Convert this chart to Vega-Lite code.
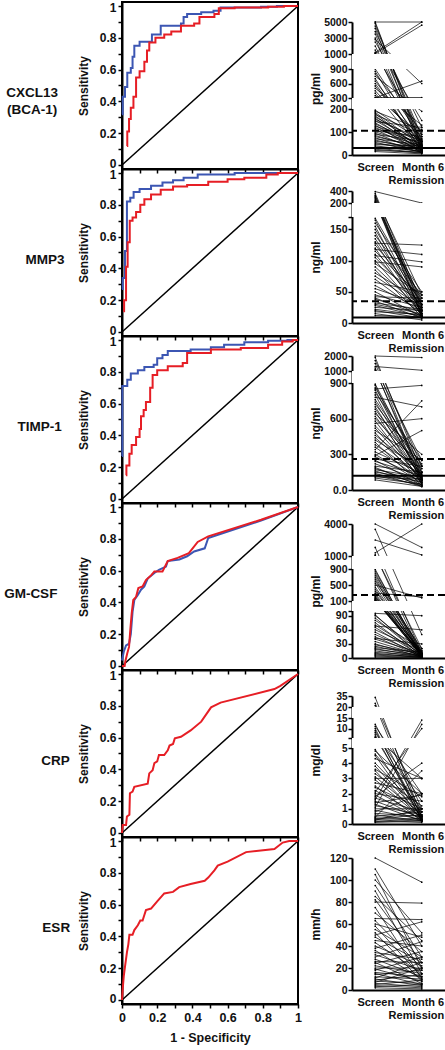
{
"$schema": "https://vega.github.io/schema/vega-lite/v6.json",
"padding": {"left": 3, "top": 0, "right": 0, "bottom": 0},
"spacing": 6,
"config": {
  "font": "Liberation Sans",
  "view": {"stroke": null},
  "axis": {"labelFont": "Liberation Sans", "labelFontWeight": "bold", "labelColor": "#111", "titleFont": "Liberation Sans", "titleFontWeight": "bold", "titleColor": "#111", "domainColor": "black", "domainWidth": 2, "tickColor": "black", "tickWidth": 1.5, "grid": false, "labelOverlap": false, "labelFlush": false, "labelBound": false},
  "title": {"orient": "left", "angle": 0, "anchor": "middle", "align": "center", "baseline": "middle", "offset": -7, "font": "Liberation Sans", "fontSize": 13.5, "fontWeight": "bold", "color": "#111", "lineHeight": 17}
},
"datasets": {
  "roc1": [{"x":0,"y":0.32,"c":"b"},{"x":0.004,"y":0.43,"c":"b"},{"x":0.017,"y":0.49,"c":"b"},{"x":0.03,"y":0.58,"c":"b"},{"x":0.05,"y":0.61,"c":"b"},{"x":0.06,"y":0.68,"c":"b"},{"x":0.07,"y":0.75,"c":"b"},{"x":0.1,"y":0.775,"c":"b"},{"x":0.17,"y":0.82,"c":"b"},{"x":0.22,"y":0.875,"c":"b"},{"x":0.335,"y":0.89,"c":"b"},{"x":0.35,"y":0.93,"c":"b"},{"x":0.37,"y":0.95,"c":"b"},{"x":0.45,"y":0.96,"c":"b"},{"x":0.52,"y":0.97,"c":"b"},{"x":0.56,"y":0.99,"c":"b"},{"x":0.79,"y":0.995,"c":"b"},{"x":0.88,"y":1,"c":"b"},{"x":1,"y":1,"c":"b"},
    {"x":0.028,"y":0.12,"c":"r"},{"x":0.03,"y":0.21,"c":"r"},{"x":0.04,"y":0.29,"c":"r"},{"x":0.05,"y":0.36,"c":"r"},{"x":0.065,"y":0.43,"c":"r"},{"x":0.08,"y":0.55,"c":"r"},{"x":0.1,"y":0.59,"c":"r"},{"x":0.127,"y":0.65,"c":"r"},{"x":0.142,"y":0.72,"c":"r"},{"x":0.155,"y":0.77,"c":"r"},{"x":0.19,"y":0.8,"c":"r"},{"x":0.24,"y":0.82,"c":"r"},{"x":0.28,"y":0.84,"c":"r"},{"x":0.335,"y":0.875,"c":"r"},{"x":0.41,"y":0.89,"c":"r"},{"x":0.44,"y":0.93,"c":"r"},{"x":0.525,"y":0.95,"c":"r"},{"x":0.55,"y":0.985,"c":"r"},{"x":0.64,"y":0.99,"c":"r"},{"x":0.83,"y":0.995,"c":"r"},{"x":0.92,"y":1,"c":"r"},{"x":1,"y":1,"c":"r"}],
  "roc2": [{"x":0,"y":0.27,"c":"b"},{"x":0.004,"y":0.34,"c":"b"},{"x":0.017,"y":0.51,"c":"b"},{"x":0.028,"y":0.82,"c":"b"},{"x":0.047,"y":0.845,"c":"b"},{"x":0.066,"y":0.88,"c":"b"},{"x":0.1,"y":0.9,"c":"b"},{"x":0.165,"y":0.92,"c":"b"},{"x":0.23,"y":0.94,"c":"b"},{"x":0.29,"y":0.955,"c":"b"},{"x":0.35,"y":0.97,"c":"b"},{"x":0.43,"y":0.99,"c":"b"},{"x":0.64,"y":1,"c":"b"},{"x":1,"y":1,"c":"b"},
    {"x":0.008,"y":0.13,"c":"r"},{"x":0.012,"y":0.2,"c":"r"},{"x":0.023,"y":0.41,"c":"r"},{"x":0.032,"y":0.565,"c":"r"},{"x":0.044,"y":0.7,"c":"r"},{"x":0.06,"y":0.72,"c":"r"},{"x":0.08,"y":0.755,"c":"r"},{"x":0.104,"y":0.8,"c":"r"},{"x":0.127,"y":0.835,"c":"r"},{"x":0.165,"y":0.865,"c":"r"},{"x":0.22,"y":0.895,"c":"r"},{"x":0.29,"y":0.915,"c":"r"},{"x":0.37,"y":0.925,"c":"r"},{"x":0.49,"y":0.945,"c":"r"},{"x":0.6,"y":0.96,"c":"r"},{"x":0.695,"y":0.97,"c":"r"},{"x":0.82,"y":0.99,"c":"r"},{"x":0.885,"y":1,"c":"r"},{"x":1,"y":1,"c":"r"}],
  "roc3": [{"x":0,"y":0.27,"c":"b"},{"x":0.002,"y":0.71,"c":"b"},{"x":0.03,"y":0.75,"c":"b"},{"x":0.05,"y":0.79,"c":"b"},{"x":0.09,"y":0.81,"c":"b"},{"x":0.127,"y":0.83,"c":"b"},{"x":0.18,"y":0.845,"c":"b"},{"x":0.2,"y":0.885,"c":"b"},{"x":0.23,"y":0.905,"c":"b"},{"x":0.26,"y":0.93,"c":"b"},{"x":0.39,"y":0.94,"c":"b"},{"x":0.505,"y":0.955,"c":"b"},{"x":0.58,"y":0.97,"c":"b"},{"x":0.695,"y":0.985,"c":"b"},{"x":0.83,"y":0.995,"c":"b"},{"x":0.94,"y":1,"c":"b"},{"x":1,"y":1,"c":"b"},
    {"x":0.023,"y":0.15,"c":"r"},{"x":0.025,"y":0.21,"c":"r"},{"x":0.042,"y":0.285,"c":"r"},{"x":0.055,"y":0.34,"c":"r"},{"x":0.08,"y":0.39,"c":"r"},{"x":0.1,"y":0.44,"c":"r"},{"x":0.108,"y":0.52,"c":"r"},{"x":0.123,"y":0.56,"c":"r"},{"x":0.136,"y":0.61,"c":"r"},{"x":0.16,"y":0.7,"c":"r"},{"x":0.174,"y":0.78,"c":"r"},{"x":0.2,"y":0.81,"c":"r"},{"x":0.26,"y":0.835,"c":"r"},{"x":0.345,"y":0.855,"c":"r"},{"x":0.37,"y":0.918,"c":"r"},{"x":0.505,"y":0.94,"c":"r"},{"x":0.675,"y":0.95,"c":"r"},{"x":0.83,"y":0.97,"c":"r"},{"x":0.91,"y":0.99,"c":"r"},{"x":0.97,"y":1,"c":"r"},{"x":1,"y":1,"c":"r"}],
  "roc4": [{"x":0,"y":0.035,"c":"b"},{"x":0.01,"y":0.09,"c":"b"},{"x":0.023,"y":0.13,"c":"b"},{"x":0.04,"y":0.14,"c":"b"},{"x":0.05,"y":0.2,"c":"b"},{"x":0.06,"y":0.34,"c":"b"},{"x":0.07,"y":0.415,"c":"b"},{"x":0.089,"y":0.445,"c":"b"},{"x":0.108,"y":0.48,"c":"b"},{"x":0.127,"y":0.5,"c":"b"},{"x":0.146,"y":0.55,"c":"b"},{"x":0.184,"y":0.585,"c":"b"},{"x":0.21,"y":0.605,"c":"b"},{"x":0.25,"y":0.625,"c":"b"},{"x":0.26,"y":0.66,"c":"b"},{"x":0.326,"y":0.67,"c":"b"},{"x":0.37,"y":0.69,"c":"b"},{"x":0.41,"y":0.72,"c":"b"},{"x":0.47,"y":0.74,"c":"b"},{"x":0.49,"y":0.805,"c":"b"},{"x":0.79,"y":0.915,"c":"b"},{"x":1,"y":1,"c":"b"},
    {"x":0,"y":0,"c":"r"},{"x":0.015,"y":0,"c":"r"},{"x":0.02,"y":0.035,"c":"r"},{"x":0.03,"y":0.08,"c":"r"},{"x":0.04,"y":0.12,"c":"r"},{"x":0.047,"y":0.225,"c":"r"},{"x":0.055,"y":0.33,"c":"r"},{"x":0.064,"y":0.415,"c":"r"},{"x":0.08,"y":0.435,"c":"r"},{"x":0.093,"y":0.49,"c":"r"},{"x":0.117,"y":0.5,"c":"r"},{"x":0.136,"y":0.54,"c":"r"},{"x":0.165,"y":0.57,"c":"r"},{"x":0.184,"y":0.595,"c":"r"},{"x":0.23,"y":0.595,"c":"r"},{"x":0.26,"y":0.66,"c":"r"},{"x":0.316,"y":0.68,"c":"r"},{"x":0.38,"y":0.71,"c":"r"},{"x":0.43,"y":0.78,"c":"r"},{"x":0.49,"y":0.815,"c":"r"},{"x":0.79,"y":0.92,"c":"r"},{"x":1,"y":1,"c":"r"}],
  "roc5": [{"x":0,"y":0,"c":"r"},{"x":0.004,"y":0.05,"c":"r"},{"x":0.023,"y":0.05,"c":"r"},{"x":0.028,"y":0.104,"c":"r"},{"x":0.042,"y":0.115,"c":"r"},{"x":0.045,"y":0.25,"c":"r"},{"x":0.06,"y":0.26,"c":"r"},{"x":0.07,"y":0.29,"c":"r"},{"x":0.146,"y":0.31,"c":"r"},{"x":0.155,"y":0.375,"c":"r"},{"x":0.174,"y":0.395,"c":"r"},{"x":0.184,"y":0.44,"c":"r"},{"x":0.2,"y":0.45,"c":"r"},{"x":0.21,"y":0.49,"c":"r"},{"x":0.24,"y":0.49,"c":"r"},{"x":0.26,"y":0.52,"c":"r"},{"x":0.27,"y":0.55,"c":"r"},{"x":0.29,"y":0.56,"c":"r"},{"x":0.3,"y":0.595,"c":"r"},{"x":0.335,"y":0.605,"c":"r"},{"x":0.39,"y":0.645,"c":"r"},{"x":0.45,"y":0.7,"c":"r"},{"x":0.506,"y":0.79,"c":"r"},{"x":0.56,"y":0.82,"c":"r"},{"x":0.866,"y":0.905,"c":"r"},{"x":0.9,"y":0.925,"c":"r"},{"x":1,"y":1,"c":"r"}],
  "roc6": [{"x":0,"y":0,"c":"r"},{"x":0.004,"y":0.07,"c":"r"},{"x":0.01,"y":0.15,"c":"r"},{"x":0.017,"y":0.21,"c":"r"},{"x":0.028,"y":0.3,"c":"r"},{"x":0.036,"y":0.35,"c":"r"},{"x":0.042,"y":0.41,"c":"r"},{"x":0.06,"y":0.41,"c":"r"},{"x":0.07,"y":0.44,"c":"r"},{"x":0.09,"y":0.47,"c":"r"},{"x":0.104,"y":0.5,"c":"r"},{"x":0.117,"y":0.5,"c":"r"},{"x":0.127,"y":0.535,"c":"r"},{"x":0.136,"y":0.565,"c":"r"},{"x":0.165,"y":0.575,"c":"r"},{"x":0.2,"y":0.62,"c":"r"},{"x":0.24,"y":0.67,"c":"r"},{"x":0.29,"y":0.68,"c":"r"},{"x":0.325,"y":0.71,"c":"r"},{"x":0.39,"y":0.73,"c":"r"},{"x":0.47,"y":0.75,"c":"r"},{"x":0.49,"y":0.77,"c":"r"},{"x":0.525,"y":0.815,"c":"r"},{"x":0.544,"y":0.845,"c":"r"},{"x":0.6,"y":0.87,"c":"r"},{"x":0.705,"y":0.93,"c":"r"},{"x":0.866,"y":0.95,"c":"r"},{"x":0.913,"y":0.99,"c":"r"},{"x":0.95,"y":1,"c":"r"},{"x":1,"y":1,"c":"r"}],
  "p1": [{"Screen":5000,"Remission":5000},{"Screen":5000,"Remission":40},{"Screen":4800,"Remission":60},{"Screen":4500,"Remission":80},{"Screen":4200,"Remission":30},{"Screen":3800,"Remission":120},{"Screen":3500,"Remission":50},{"Screen":3000,"Remission":20},{"Screen":2800,"Remission":600},{"Screen":2500,"Remission":150},{"Screen":2000,"Remission":45},{"Screen":1500,"Remission":35},{"Screen":1200,"Remission":5000},{"Screen":1100,"Remission":90},{"Screen":1050,"Remission":4600},{"Screen":900,"Remission":70},{"Screen":850,"Remission":30},{"Screen":800,"Remission":100},{"Screen":750,"Remission":190},{"Screen":700,"Remission":15},{"Screen":650,"Remission":60},{"Screen":600,"Remission":25},{"Screen":550,"Remission":40},{"Screen":500,"Remission":130},{"Screen":450,"Remission":55},{"Screen":400,"Remission":20},{"Screen":350,"Remission":80},{"Screen":310,"Remission":310},{"Screen":305,"Remission":650},{"Screen":195,"Remission":60},{"Screen":190,"Remission":110},{"Screen":185,"Remission":40},{"Screen":180,"Remission":20},{"Screen":175,"Remission":90},{"Screen":170,"Remission":30},{"Screen":165,"Remission":55},{"Screen":160,"Remission":15},{"Screen":155,"Remission":70},{"Screen":150,"Remission":35},{"Screen":145,"Remission":120},{"Screen":140,"Remission":25},{"Screen":135,"Remission":45},{"Screen":130,"Remission":10},{"Screen":125,"Remission":65},{"Screen":120,"Remission":30},{"Screen":115,"Remission":50},{"Screen":110,"Remission":20},{"Screen":105,"Remission":80},{"Screen":100,"Remission":40},{"Screen":95,"Remission":15},{"Screen":90,"Remission":60},{"Screen":85,"Remission":25},{"Screen":80,"Remission":35},{"Screen":75,"Remission":10},{"Screen":70,"Remission":45},{"Screen":65,"Remission":20},{"Screen":60,"Remission":30},{"Screen":55,"Remission":12},{"Screen":50,"Remission":25},{"Screen":45,"Remission":40},{"Screen":40,"Remission":15},{"Screen":35,"Remission":18},{"Screen":30,"Remission":10},{"Screen":25,"Remission":8},{"Screen":20,"Remission":12},{"Screen":15,"Remission":5}],
  "p2": [{"Screen":390,"Remission":200},{"Screen":360,"Remission":30},{"Screen":330,"Remission":20},{"Screen":310,"Remission":45},{"Screen":290,"Remission":15},{"Screen":270,"Remission":25},{"Screen":250,"Remission":10},{"Screen":230,"Remission":35},{"Screen":215,"Remission":12},{"Screen":205,"Remission":28},{"Screen":168,"Remission":40},{"Screen":165,"Remission":20},{"Screen":160,"Remission":50},{"Screen":155,"Remission":15},{"Screen":150,"Remission":30},{"Screen":145,"Remission":10},{"Screen":140,"Remission":45},{"Screen":135,"Remission":25},{"Screen":130,"Remission":18},{"Screen":128,"Remission":125},{"Screen":125,"Remission":35},{"Screen":120,"Remission":12},{"Screen":118,"Remission":110},{"Screen":115,"Remission":40},{"Screen":110,"Remission":22},{"Screen":108,"Remission":98},{"Screen":105,"Remission":30},{"Screen":100,"Remission":15},{"Screen":98,"Remission":90},{"Screen":95,"Remission":45},{"Screen":90,"Remission":20},{"Screen":85,"Remission":10},{"Screen":80,"Remission":35},{"Screen":75,"Remission":25},{"Screen":70,"Remission":15},{"Screen":65,"Remission":50},{"Screen":60,"Remission":20},{"Screen":55,"Remission":30},{"Screen":50,"Remission":10},{"Screen":45,"Remission":25},{"Screen":42,"Remission":40},{"Screen":40,"Remission":12},{"Screen":38,"Remission":18},{"Screen":35,"Remission":8},{"Screen":32,"Remission":22},{"Screen":30,"Remission":15},{"Screen":28,"Remission":10},{"Screen":25,"Remission":20},{"Screen":22,"Remission":12},{"Screen":20,"Remission":8},{"Screen":18,"Remission":14},{"Screen":15,"Remission":5},{"Screen":12,"Remission":10}],
  "p3": [{"Screen":2000,"Remission":1900},{"Screen":1900,"Remission":150},{"Screen":1700,"Remission":200},{"Screen":1500,"Remission":100},{"Screen":1300,"Remission":1050},{"Screen":1200,"Remission":250},{"Screen":1100,"Remission":80},{"Screen":1050,"Remission":120},{"Screen":890,"Remission":150},{"Screen":880,"Remission":60},{"Screen":860,"Remission":200},{"Screen":850,"Remission":880},{"Screen":840,"Remission":100},{"Screen":820,"Remission":250},{"Screen":800,"Remission":80},{"Screen":780,"Remission":700},{"Screen":760,"Remission":180},{"Screen":740,"Remission":120},{"Screen":720,"Remission":220},{"Screen":700,"Remission":90},{"Screen":680,"Remission":150},{"Screen":660,"Remission":50},{"Screen":640,"Remission":300},{"Screen":620,"Remission":110},{"Screen":600,"Remission":200},{"Screen":580,"Remission":70},{"Screen":560,"Remission":600},{"Screen":540,"Remission":130},{"Screen":520,"Remission":90},{"Screen":500,"Remission":250},{"Screen":480,"Remission":60},{"Screen":460,"Remission":150},{"Screen":440,"Remission":100},{"Screen":420,"Remission":180},{"Screen":400,"Remission":40},{"Screen":380,"Remission":120},{"Screen":360,"Remission":80},{"Screen":340,"Remission":750},{"Screen":320,"Remission":140},{"Screen":300,"Remission":60},{"Screen":290,"Remission":500},{"Screen":280,"Remission":100},{"Screen":260,"Remission":200},{"Screen":250,"Remission":40},{"Screen":240,"Remission":120},{"Screen":220,"Remission":80},{"Screen":200,"Remission":150},{"Screen":190,"Remission":30},{"Screen":180,"Remission":60},{"Screen":170,"Remission":110},{"Screen":160,"Remission":45},{"Screen":150,"Remission":90},{"Screen":140,"Remission":30},{"Screen":130,"Remission":70},{"Screen":120,"Remission":40},{"Screen":110,"Remission":90},{"Screen":100,"Remission":50},{"Screen":85,"Remission":30}],
  "p4": [{"Screen":4000,"Remission":1800},{"Screen":3500,"Remission":50},{"Screen":2500,"Remission":1100},{"Screen":1800,"Remission":10},{"Screen":1300,"Remission":4000},{"Screen":1100,"Remission":5},{"Screen":1050,"Remission":20},{"Screen":890,"Remission":5},{"Screen":850,"Remission":10},{"Screen":800,"Remission":3},{"Screen":750,"Remission":15},{"Screen":700,"Remission":8},{"Screen":650,"Remission":2},{"Screen":600,"Remission":20},{"Screen":550,"Remission":5},{"Screen":500,"Remission":180},{"Screen":450,"Remission":10},{"Screen":400,"Remission":3},{"Screen":350,"Remission":8},{"Screen":300,"Remission":200},{"Screen":280,"Remission":12},{"Screen":250,"Remission":5},{"Screen":220,"Remission":4},{"Screen":200,"Remission":15},{"Screen":180,"Remission":6},{"Screen":160,"Remission":2},{"Screen":150,"Remission":8},{"Screen":130,"Remission":3},{"Screen":120,"Remission":10},{"Screen":110,"Remission":5},{"Screen":95,"Remission":90},{"Screen":92,"Remission":3},{"Screen":90,"Remission":10},{"Screen":85,"Remission":5},{"Screen":80,"Remission":20},{"Screen":75,"Remission":2},{"Screen":70,"Remission":8},{"Screen":68,"Remission":60},{"Screen":65,"Remission":4},{"Screen":60,"Remission":15},{"Screen":55,"Remission":2},{"Screen":50,"Remission":6},{"Screen":45,"Remission":3},{"Screen":42,"Remission":30},{"Screen":40,"Remission":10},{"Screen":35,"Remission":5},{"Screen":30,"Remission":2},{"Screen":28,"Remission":8},{"Screen":25,"Remission":4},{"Screen":22,"Remission":12},{"Screen":20,"Remission":3},{"Screen":18,"Remission":6},{"Screen":15,"Remission":2},{"Screen":12,"Remission":5},{"Screen":10,"Remission":1},{"Screen":8,"Remission":3},{"Screen":6,"Remission":2},{"Screen":4,"Remission":1},{"Screen":2,"Remission":0}],
  "p5": [{"Screen":33,"Remission":0.5},{"Screen":25,"Remission":1},{"Screen":22,"Remission":0.3},{"Screen":12,"Remission":0.8},{"Screen":11,"Remission":2},{"Screen":10,"Remission":0.2},{"Screen":9,"Remission":0.5},{"Screen":8,"Remission":1.5},{"Screen":7,"Remission":0.3},{"Screen":6,"Remission":3},{"Screen":5.8,"Remission":0.6},{"Screen":4.9,"Remission":0.4},{"Screen":4.8,"Remission":2},{"Screen":4.6,"Remission":1},{"Screen":4.5,"Remission":0.2},{"Screen":4.3,"Remission":3},{"Screen":4,"Remission":0.8},{"Screen":3.8,"Remission":0.5},{"Screen":3.6,"Remission":1.8},{"Screen":3.5,"Remission":0.3},{"Screen":3.3,"Remission":1.2},{"Screen":3.1,"Remission":0.6},{"Screen":3,"Remission":3},{"Screen":2.9,"Remission":0.4},{"Screen":2.7,"Remission":2},{"Screen":2.5,"Remission":0.2},{"Screen":2.4,"Remission":1},{"Screen":2.2,"Remission":0.5},{"Screen":2.1,"Remission":10},{"Screen":2,"Remission":1.5},{"Screen":1.9,"Remission":0.3},{"Screen":1.8,"Remission":4},{"Screen":1.7,"Remission":0.8},{"Screen":1.6,"Remission":14},{"Screen":1.5,"Remission":0.4},{"Screen":1.4,"Remission":1.9},{"Screen":1.3,"Remission":0.2},{"Screen":1.2,"Remission":0.6},{"Screen":1.1,"Remission":12},{"Screen":1,"Remission":1},{"Screen":0.9,"Remission":0.3},{"Screen":0.8,"Remission":2},{"Screen":0.7,"Remission":0.5},{"Screen":0.6,"Remission":0.2},{"Screen":0.5,"Remission":0.8},{"Screen":0.45,"Remission":3.5},{"Screen":0.4,"Remission":0.3},{"Screen":0.35,"Remission":0.6},{"Screen":0.3,"Remission":0.2},{"Screen":0.25,"Remission":1},{"Screen":0.2,"Remission":0.1},{"Screen":0.15,"Remission":0.4},{"Screen":0.1,"Remission":0.2}],
  "p6": [{"Screen":120,"Remission":98},{"Screen":110,"Remission":40},{"Screen":105,"Remission":20},{"Screen":100,"Remission":52},{"Screen":95,"Remission":30},{"Screen":90,"Remission":15},{"Screen":85,"Remission":45},{"Screen":82,"Remission":25},{"Screen":80,"Remission":79},{"Screen":75,"Remission":10},{"Screen":70,"Remission":35},{"Screen":65,"Remission":64},{"Screen":63,"Remission":20},{"Screen":60,"Remission":48},{"Screen":58,"Remission":12},{"Screen":55,"Remission":30},{"Screen":52,"Remission":8},{"Screen":50,"Remission":62},{"Screen":48,"Remission":25},{"Screen":45,"Remission":40},{"Screen":43,"Remission":15},{"Screen":40,"Remission":22},{"Screen":38,"Remission":50},{"Screen":36,"Remission":10},{"Screen":34,"Remission":28},{"Screen":32,"Remission":18},{"Screen":30,"Remission":44},{"Screen":28,"Remission":12},{"Screen":26,"Remission":25},{"Screen":25,"Remission":6},{"Screen":24,"Remission":35},{"Screen":22,"Remission":15},{"Screen":20,"Remission":20},{"Screen":19,"Remission":8},{"Screen":18,"Remission":30},{"Screen":16,"Remission":12},{"Screen":15,"Remission":5},{"Screen":14,"Remission":18},{"Screen":12,"Remission":10},{"Screen":11,"Remission":25},{"Screen":10,"Remission":4},{"Screen":9,"Remission":14},{"Screen":8,"Remission":6},{"Screen":7,"Remission":20},{"Screen":6,"Remission":3},{"Screen":5,"Remission":9},{"Screen":4,"Remission":2},{"Screen":3,"Remission":5},{"Screen":2,"Remission":1}]
},
"hconcat": [
 {"spacing": 0, "bounds": "flush", "vconcat": [
  {"width": 176, "height": 167, "view": {"stroke": "black", "strokeWidth": 2}, "title": {"text": ["CXCL13", "(BCA-1)"]},
   "layer": [
    {"data": {"values": [{"x": 0, "y": 0}, {"x": 1, "y": 1}]}, "mark": {"type": "line", "color": "black", "strokeWidth": 1.5},
     "encoding": {"x": {"field": "x", "type": "quantitative", "scale": {"domain": [0, 1], "nice": false, "zero": false}, "axis": {"values": [0,0.1,0.2,0.3,0.4,0.5,0.6,0.7,0.8,0.9,1], "tickCount": 30, "labels": false, "title": null, "tickSize": 4}},
      "y": {"field": "y", "type": "quantitative", "scale": {"domain": [-0.025, 1.025], "nice": false, "zero": false}, "axis": {"values": [0,0.1,0.2,0.3,0.4,0.5,0.6,0.7,0.8,0.9,1], "tickCount": 30, "labelExpr": "round(datum.value*10)%2==0 ? toString(round(datum.value*10)/10) : ''", "labelOffset": {"condition": [{"test": "datum.value == 0", "value": -2}, {"test": "datum.value == 1", "value": 2}], "value": 0}, "title": "Sensitivity", "tickSize": 4, "labelPadding": 2, "labelFontSize": 12, "titleFontSize": 12, "titlePadding": 9, "minExtent": 23, "maxExtent": 23}}}},
    {"data": {"name": "roc1"}, "mark": {"type": "line", "strokeWidth": 2, "interpolate": "step-after"},
     "encoding": {"x": {"field": "x", "type": "quantitative"}, "y": {"field": "y", "type": "quantitative"}, "color": {"field": "c", "type": "nominal", "scale": {"domain": ["b", "r"], "range": ["#3C56B3", "#E61E25"]}, "legend": null}}}
   ]},
  {"width": 176, "height": 167, "view": {"stroke": "black", "strokeWidth": 2}, "title": {"text": "MMP3"},
   "layer": [
    {"data": {"values": [{"x": 0, "y": 0}, {"x": 1, "y": 1}]}, "mark": {"type": "line", "color": "black", "strokeWidth": 1.5},
     "encoding": {"x": {"field": "x", "type": "quantitative", "scale": {"domain": [0, 1], "nice": false, "zero": false}, "axis": {"values": [0,0.1,0.2,0.3,0.4,0.5,0.6,0.7,0.8,0.9,1], "tickCount": 30, "labels": false, "title": null, "tickSize": 4}},
      "y": {"field": "y", "type": "quantitative", "scale": {"domain": [-0.025, 1.025], "nice": false, "zero": false}, "axis": {"values": [0,0.1,0.2,0.3,0.4,0.5,0.6,0.7,0.8,0.9,1], "tickCount": 30, "labelExpr": "round(datum.value*10)%2==0 ? toString(round(datum.value*10)/10) : ''", "labelOffset": {"condition": [{"test": "datum.value == 0", "value": -2}, {"test": "datum.value == 1", "value": 2}], "value": 0}, "title": "Sensitivity", "tickSize": 4, "labelPadding": 2, "labelFontSize": 12, "titleFontSize": 12, "titlePadding": 9, "minExtent": 23, "maxExtent": 23}}}},
    {"data": {"name": "roc2"}, "mark": {"type": "line", "strokeWidth": 2, "interpolate": "step-after"},
     "encoding": {"x": {"field": "x", "type": "quantitative"}, "y": {"field": "y", "type": "quantitative"}, "color": {"field": "c", "type": "nominal", "scale": {"domain": ["b", "r"], "range": ["#3C56B3", "#E61E25"]}, "legend": null}}}
   ]},
  {"width": 176, "height": 167, "view": {"stroke": "black", "strokeWidth": 2}, "title": {"text": "TIMP-1"},
   "layer": [
    {"data": {"values": [{"x": 0, "y": 0}, {"x": 1, "y": 1}]}, "mark": {"type": "line", "color": "black", "strokeWidth": 1.5},
     "encoding": {"x": {"field": "x", "type": "quantitative", "scale": {"domain": [0, 1], "nice": false, "zero": false}, "axis": {"values": [0,0.1,0.2,0.3,0.4,0.5,0.6,0.7,0.8,0.9,1], "tickCount": 30, "labels": false, "title": null, "tickSize": 4}},
      "y": {"field": "y", "type": "quantitative", "scale": {"domain": [-0.025, 1.025], "nice": false, "zero": false}, "axis": {"values": [0,0.1,0.2,0.3,0.4,0.5,0.6,0.7,0.8,0.9,1], "tickCount": 30, "labelExpr": "round(datum.value*10)%2==0 ? toString(round(datum.value*10)/10) : ''", "labelOffset": {"condition": [{"test": "datum.value == 0", "value": -2}, {"test": "datum.value == 1", "value": 2}], "value": 0}, "title": "Sensitivity", "tickSize": 4, "labelPadding": 2, "labelFontSize": 12, "titleFontSize": 12, "titlePadding": 9, "minExtent": 23, "maxExtent": 23}}}},
    {"data": {"name": "roc3"}, "mark": {"type": "line", "strokeWidth": 2, "interpolate": "step-after"},
     "encoding": {"x": {"field": "x", "type": "quantitative"}, "y": {"field": "y", "type": "quantitative"}, "color": {"field": "c", "type": "nominal", "scale": {"domain": ["b", "r"], "range": ["#3C56B3", "#E61E25"]}, "legend": null}}}
   ]},
  {"width": 176, "height": 167, "view": {"stroke": "black", "strokeWidth": 2}, "title": {"text": "GM-CSF"},
   "layer": [
    {"data": {"values": [{"x": 0, "y": 0}, {"x": 1, "y": 1}]}, "mark": {"type": "line", "color": "black", "strokeWidth": 1.5},
     "encoding": {"x": {"field": "x", "type": "quantitative", "scale": {"domain": [0, 1], "nice": false, "zero": false}, "axis": {"values": [0,0.1,0.2,0.3,0.4,0.5,0.6,0.7,0.8,0.9,1], "tickCount": 30, "labels": false, "title": null, "tickSize": 4}},
      "y": {"field": "y", "type": "quantitative", "scale": {"domain": [-0.025, 1.025], "nice": false, "zero": false}, "axis": {"values": [0,0.1,0.2,0.3,0.4,0.5,0.6,0.7,0.8,0.9,1], "tickCount": 30, "labelExpr": "round(datum.value*10)%2==0 ? toString(round(datum.value*10)/10) : ''", "labelOffset": {"condition": [{"test": "datum.value == 0", "value": -2}, {"test": "datum.value == 1", "value": 2}], "value": 0}, "title": "Sensitivity", "tickSize": 4, "labelPadding": 2, "labelFontSize": 12, "titleFontSize": 12, "titlePadding": 9, "minExtent": 23, "maxExtent": 23}}}},
    {"data": {"name": "roc4"}, "mark": {"type": "line", "strokeWidth": 2},
     "encoding": {"x": {"field": "x", "type": "quantitative"}, "y": {"field": "y", "type": "quantitative"}, "color": {"field": "c", "type": "nominal", "scale": {"domain": ["b", "r"], "range": ["#3C56B3", "#E61E25"]}, "legend": null}}}
   ]},
  {"width": 176, "height": 167, "view": {"stroke": "black", "strokeWidth": 2}, "title": {"text": "CRP"},
   "layer": [
    {"data": {"values": [{"x": 0, "y": 0}, {"x": 1, "y": 1}]}, "mark": {"type": "line", "color": "black", "strokeWidth": 1.5},
     "encoding": {"x": {"field": "x", "type": "quantitative", "scale": {"domain": [0, 1], "nice": false, "zero": false}, "axis": {"values": [0,0.1,0.2,0.3,0.4,0.5,0.6,0.7,0.8,0.9,1], "tickCount": 30, "labels": false, "title": null, "tickSize": 4}},
      "y": {"field": "y", "type": "quantitative", "scale": {"domain": [-0.025, 1.025], "nice": false, "zero": false}, "axis": {"values": [0,0.1,0.2,0.3,0.4,0.5,0.6,0.7,0.8,0.9,1], "tickCount": 30, "labelExpr": "round(datum.value*10)%2==0 ? toString(round(datum.value*10)/10) : ''", "labelOffset": {"condition": [{"test": "datum.value == 0", "value": -2}, {"test": "datum.value == 1", "value": 2}], "value": 0}, "title": "Sensitivity", "tickSize": 4, "labelPadding": 2, "labelFontSize": 12, "titleFontSize": 12, "titlePadding": 9, "minExtent": 23, "maxExtent": 23}}}},
    {"data": {"name": "roc5"}, "mark": {"type": "line", "strokeWidth": 2},
     "encoding": {"x": {"field": "x", "type": "quantitative"}, "y": {"field": "y", "type": "quantitative"}, "color": {"field": "c", "type": "nominal", "scale": {"domain": ["b", "r"], "range": ["#3C56B3", "#E61E25"]}, "legend": null}}}
   ]},
  {"width": 176, "height": 167, "view": {"stroke": "black", "strokeWidth": 2}, "title": {"text": "ESR"},
   "layer": [
    {"data": {"values": [{"x": 0, "y": 0}, {"x": 1, "y": 1}]}, "mark": {"type": "line", "color": "black", "strokeWidth": 1.5},
     "encoding": {"x": {"field": "x", "type": "quantitative", "scale": {"domain": [0, 1], "nice": false, "zero": false}, "axis": {"values": [0,0.1,0.2,0.3,0.4,0.5,0.6,0.7,0.8,0.9,1], "tickCount": 30, "labelExpr": "round(datum.value*10)%2==0 ? toString(round(datum.value*10)/10) : ''", "title": "1 - Specificity", "tickSize": 4, "labelPadding": 3, "labelFontSize": 12.5, "titleFontSize": 12.5, "titlePadding": 8}},
      "y": {"field": "y", "type": "quantitative", "scale": {"domain": [-0.025, 1.025], "nice": false, "zero": false}, "axis": {"values": [0,0.1,0.2,0.3,0.4,0.5,0.6,0.7,0.8,0.9,1], "tickCount": 30, "labelExpr": "round(datum.value*10)%2==0 ? toString(round(datum.value*10)/10) : ''", "labelOffset": {"condition": [{"test": "datum.value == 0", "value": -2}, {"test": "datum.value == 1", "value": 2}], "value": 0}, "title": "Sensitivity", "tickSize": 4, "labelPadding": 2, "labelFontSize": 12, "titleFontSize": 12, "titlePadding": 9, "minExtent": 23, "maxExtent": 23}}}},
    {"data": {"name": "roc6"}, "mark": {"type": "line", "strokeWidth": 2},
     "encoding": {"x": {"field": "x", "type": "quantitative"}, "y": {"field": "y", "type": "quantitative"}, "color": {"field": "c", "type": "nominal", "scale": {"domain": ["b", "r"], "range": ["#3C56B3", "#E61E25"]}, "legend": null}}}
   ]}
 ]},
 {"spacing": 32, "bounds": "flush", "vconcat": [
  {"width": 93, "height": 153,
   "layer": [
    {"data": {"name": "p1"}, "transform": [{"fold": ["Screen", "Remission"], "as": ["t", "v"]}], "mark": {"type": "line", "color": "black", "strokeWidth": 0.8, "opacity": 0.9},
     "encoding": {"x": {"field": "t", "type": "nominal", "scale": {"type": "point", "domain": ["Screen", "Remission"], "padding": 0.5}, "axis": {"title": null, "ticks": false, "labelAngle": 0, "labelPadding": 6, "labelFontSize": 11, "labelLineHeight": 13, "labelAlign": {"condition": {"test": "datum.value == 'Remission'", "value": "right"}, "value": "center"}, "labelOffset": {"condition": {"test": "datum.value == 'Remission'", "value": 22}, "value": 0}, "labelExpr": "datum.value == 'Screen' ? 'Screen' : ['Month 6', 'Remission']"}},
      "y": {"field": "v", "type": "quantitative", "title": "pg/ml", "scale": {"domain": [0, 200, 300, 900, 1000, 5000], "range": [153, 107, 96, 67, 52, 20], "nice": false, "zero": false}, "axis": {"values": [0, 100, 200, 300, 600, 900, 1000, 3000, 5000], "tickCount": 30, "format": "d", "tickSize": 4, "labelPadding": 1, "labelFontSize": 10.5, "titleFontSize": 12, "titlePadding": 2, "minExtent": 28, "maxExtent": 28}},
      "detail": [{"field": "Screen", "type": "quantitative"}, {"field": "Remission", "type": "quantitative"}]}},
    {"data": {"name": "p1"}, "transform": [{"fold": ["Screen", "Remission"], "as": ["t", "v"]}], "mark": {"type": "point", "filled": true, "size": 3, "color": "black", "opacity": 1},
     "encoding": {"x": {"field": "t", "type": "nominal"}, "y": {"field": "v", "type": "quantitative", "title": "pg/ml"}}},
    {"data": {"values": [{"v": 200, "v2": 300}, {"v": 900, "v2": 1000}]}, "mark": {"type": "rect", "color": "white"}, "encoding": {"y": {"field": "v", "type": "quantitative", "title": "pg/ml"}, "y2": {"field": "v2"}}},
    {"data": {"values": [{"v": 105}]}, "mark": {"type": "rule", "strokeWidth": 2, "strokeDash": [7, 4], "color": "black"}, "encoding": {"y": {"field": "v", "type": "quantitative", "title": "pg/ml"}}},
    {"data": {"values": [{"v": 30}]}, "mark": {"type": "rule", "strokeWidth": 2, "color": "black"}, "encoding": {"y": {"field": "v", "type": "quantitative", "title": "pg/ml"}}}
   ]},
  {"width": 93, "height": 136,
   "layer": [
    {"data": {"name": "p2"}, "transform": [{"fold": ["Screen", "Remission"], "as": ["t", "v"]}], "mark": {"type": "line", "color": "black", "strokeWidth": 0.8, "opacity": 0.9},
     "encoding": {"x": {"field": "t", "type": "nominal", "scale": {"type": "point", "domain": ["Screen", "Remission"], "padding": 0.5}, "axis": {"title": null, "ticks": false, "labelAngle": 0, "labelPadding": 6, "labelFontSize": 11, "labelLineHeight": 13, "labelAlign": {"condition": {"test": "datum.value == 'Remission'", "value": "right"}, "value": "center"}, "labelOffset": {"condition": {"test": "datum.value == 'Remission'", "value": 22}, "value": 0}, "labelExpr": "datum.value == 'Screen' ? 'Screen' : ['Month 6', 'Remission']"}},
      "y": {"field": "v", "type": "quantitative", "title": "ng/ml", "scale": {"domain": [0, 170, 200, 400], "range": [136, 30, 16, 4], "nice": false, "zero": false}, "axis": {"values": [0, 50, 100, 150, 170, 200, 400], "tickCount": 30, "labelExpr": "datum.value == 170 ? '' : datum.label", "format": "d", "tickSize": 4, "labelPadding": 1, "labelFontSize": 10.5, "titleFontSize": 12, "titlePadding": 2, "minExtent": 28, "maxExtent": 28}},
      "detail": [{"field": "Screen", "type": "quantitative"}, {"field": "Remission", "type": "quantitative"}]}},
    {"data": {"name": "p2"}, "transform": [{"fold": ["Screen", "Remission"], "as": ["t", "v"]}], "mark": {"type": "point", "filled": true, "size": 3, "color": "black", "opacity": 1},
     "encoding": {"x": {"field": "t", "type": "nominal"}, "y": {"field": "v", "type": "quantitative", "title": "ng/ml"}}},
    {"data": {"values": [{"v": 170, "v2": 200}]}, "mark": {"type": "rect", "color": "white"}, "encoding": {"y": {"field": "v", "type": "quantitative", "title": "ng/ml"}, "y2": {"field": "v2"}}},
    {"data": {"values": [{"v": 35}]}, "mark": {"type": "rule", "strokeWidth": 2, "strokeDash": [7, 4], "color": "black"}, "encoding": {"y": {"field": "v", "type": "quantitative", "title": "ng/ml"}}},
    {"data": {"values": [{"v": 9}]}, "mark": {"type": "rule", "strokeWidth": 2, "color": "black"}, "encoding": {"y": {"field": "v", "type": "quantitative", "title": "ng/ml"}}}
   ]},
  {"width": 93, "height": 135,
   "layer": [
    {"data": {"name": "p3"}, "transform": [{"fold": ["Screen", "Remission"], "as": ["t", "v"]}], "mark": {"type": "line", "color": "black", "strokeWidth": 0.8, "opacity": 0.9},
     "encoding": {"x": {"field": "t", "type": "nominal", "scale": {"type": "point", "domain": ["Screen", "Remission"], "padding": 0.5}, "axis": {"title": null, "ticks": false, "labelAngle": 0, "labelPadding": 6, "labelFontSize": 11, "labelLineHeight": 13, "labelAlign": {"condition": {"test": "datum.value == 'Remission'", "value": "right"}, "value": "center"}, "labelOffset": {"condition": {"test": "datum.value == 'Remission'", "value": 22}, "value": 0}, "labelExpr": "datum.value == 'Screen' ? 'Screen' : ['Month 6', 'Remission']"}},
      "y": {"field": "v", "type": "quantitative", "title": "ng/ml", "scale": {"domain": [0, 900, 1000, 2000], "range": [135, 28, 16, 1], "nice": false, "zero": false}, "axis": {"values": [0, 300, 600, 900, 1000, 2000], "tickCount": 30, "labelExpr": "datum.value == 0 ? '0.0' : datum.label", "format": "d", "tickSize": 4, "labelPadding": 1, "labelFontSize": 10.5, "titleFontSize": 12, "titlePadding": 2, "minExtent": 28, "maxExtent": 28}},
      "detail": [{"field": "Screen", "type": "quantitative"}, {"field": "Remission", "type": "quantitative"}]}},
    {"data": {"name": "p3"}, "transform": [{"fold": ["Screen", "Remission"], "as": ["t", "v"]}], "mark": {"type": "point", "filled": true, "size": 3, "color": "black", "opacity": 1},
     "encoding": {"x": {"field": "t", "type": "nominal"}, "y": {"field": "v", "type": "quantitative", "title": "ng/ml"}}},
    {"data": {"values": [{"v": 900, "v2": 1000}]}, "mark": {"type": "rect", "color": "white"}, "encoding": {"y": {"field": "v", "type": "quantitative", "title": "ng/ml"}, "y2": {"field": "v2"}}},
    {"data": {"values": [{"v": 260}]}, "mark": {"type": "rule", "strokeWidth": 2, "strokeDash": [7, 4], "color": "black"}, "encoding": {"y": {"field": "v", "type": "quantitative", "title": "ng/ml"}}},
    {"data": {"values": [{"v": 120}]}, "mark": {"type": "rule", "strokeWidth": 2, "color": "black"}, "encoding": {"y": {"field": "v", "type": "quantitative", "title": "ng/ml"}}}
   ]},
  {"width": 93, "height": 136,
   "layer": [
    {"data": {"name": "p4"}, "transform": [{"fold": ["Screen", "Remission"], "as": ["t", "v"]}], "mark": {"type": "line", "color": "black", "strokeWidth": 0.8, "opacity": 0.9},
     "encoding": {"x": {"field": "t", "type": "nominal", "scale": {"type": "point", "domain": ["Screen", "Remission"], "padding": 0.5}, "axis": {"title": null, "ticks": false, "labelAngle": 0, "labelPadding": 6, "labelFontSize": 11, "labelLineHeight": 13, "labelAlign": {"condition": {"test": "datum.value == 'Remission'", "value": "right"}, "value": "center"}, "labelOffset": {"condition": {"test": "datum.value == 'Remission'", "value": 22}, "value": 0}, "labelExpr": "datum.value == 'Screen' ? 'Screen' : ['Month 6', 'Remission']"}},
      "y": {"field": "v", "type": "quantitative", "title": "pg/ml", "scale": {"domain": [0, 100, 101, 900, 1000, 4000], "range": [136, 89, 79, 47, 34, 2], "nice": false, "zero": false}, "axis": {"values": [0, 30, 60, 90, 100, 101, 500, 900, 1000, 4000], "tickCount": 30, "labelExpr": "datum.value == 100 ? '' : (datum.value == 101 ? '100' : datum.label)", "format": "d", "tickSize": 4, "labelPadding": 1, "labelFontSize": 10.5, "titleFontSize": 12, "titlePadding": 2, "minExtent": 28, "maxExtent": 28}},
      "detail": [{"field": "Screen", "type": "quantitative"}, {"field": "Remission", "type": "quantitative"}]}},
    {"data": {"name": "p4"}, "transform": [{"fold": ["Screen", "Remission"], "as": ["t", "v"]}], "mark": {"type": "point", "filled": true, "size": 3, "color": "black", "opacity": 1},
     "encoding": {"x": {"field": "t", "type": "nominal"}, "y": {"field": "v", "type": "quantitative", "title": "pg/ml"}}},
    {"data": {"values": [{"v": 100, "v2": 101}, {"v": 900, "v2": 1000}]}, "mark": {"type": "rect", "color": "white"}, "encoding": {"y": {"field": "v", "type": "quantitative", "title": "pg/ml"}, "y2": {"field": "v2"}}},
    {"data": {"values": [{"v": 250}]}, "mark": {"type": "rule", "strokeWidth": 2, "strokeDash": [7, 4], "color": "black"}, "encoding": {"y": {"field": "v", "type": "quantitative", "title": "pg/ml"}}}
   ]},
  {"width": 93, "height": 134,
   "layer": [
    {"data": {"name": "p5"}, "transform": [{"fold": ["Screen", "Remission"], "as": ["t", "v"]}], "mark": {"type": "line", "color": "black", "strokeWidth": 0.8, "opacity": 0.9},
     "encoding": {"x": {"field": "t", "type": "nominal", "scale": {"type": "point", "domain": ["Screen", "Remission"], "padding": 0.5}, "axis": {"title": null, "ticks": false, "labelAngle": 0, "labelPadding": 6, "labelFontSize": 11, "labelLineHeight": 13, "labelAlign": {"condition": {"test": "datum.value == 'Remission'", "value": "right"}, "value": "center"}, "labelOffset": {"condition": {"test": "datum.value == 'Remission'", "value": 22}, "value": 0}, "labelExpr": "datum.value == 'Screen' ? 'Screen' : ['Month 6', 'Remission']"}},
      "y": {"field": "v", "type": "quantitative", "title": "mg/dl", "scale": {"domain": [0, 5, 5.5, 15, 20, 35], "range": [134, 58, 48, 28, 17, 6], "nice": false, "zero": false}, "axis": {"values": [0, 1, 2, 3, 4, 5, 5.5, 10, 15, 20, 35], "tickCount": 30, "labelExpr": "datum.value == 5.5 ? '' : datum.label", "format": "d", "tickSize": 4, "labelPadding": 1, "labelFontSize": 10, "titleFontSize": 12, "titlePadding": 2, "minExtent": 28, "maxExtent": 28}},
      "detail": [{"field": "Screen", "type": "quantitative"}, {"field": "Remission", "type": "quantitative"}]}},
    {"data": {"name": "p5"}, "transform": [{"fold": ["Screen", "Remission"], "as": ["t", "v"]}], "mark": {"type": "point", "filled": true, "size": 3, "color": "black", "opacity": 1},
     "encoding": {"x": {"field": "t", "type": "nominal"}, "y": {"field": "v", "type": "quantitative", "title": "mg/dl"}}},
    {"data": {"values": [{"v": 5, "v2": 5.5}, {"v": 15, "v2": 20}]}, "mark": {"type": "rect", "color": "white"}, "encoding": {"y": {"field": "v", "type": "quantitative", "title": "mg/dl"}, "y2": {"field": "v2"}}}
   ]},
  {"width": 93, "height": 134,
   "layer": [
    {"data": {"name": "p6"}, "transform": [{"fold": ["Screen", "Remission"], "as": ["t", "v"]}], "mark": {"type": "line", "color": "black", "strokeWidth": 0.8, "opacity": 0.9},
     "encoding": {"x": {"field": "t", "type": "nominal", "scale": {"type": "point", "domain": ["Screen", "Remission"], "padding": 0.5}, "axis": {"title": null, "ticks": false, "labelAngle": 0, "labelPadding": 6, "labelFontSize": 11, "labelLineHeight": 13, "labelAlign": {"condition": {"test": "datum.value == 'Remission'", "value": "right"}, "value": "center"}, "labelOffset": {"condition": {"test": "datum.value == 'Remission'", "value": 22}, "value": 0}, "labelExpr": "datum.value == 'Screen' ? 'Screen' : ['Month 6', 'Remission']"}},
      "y": {"field": "v", "type": "quantitative", "title": "mm/h", "scale": {"domain": [0, 120], "range": [134, 2], "nice": false, "zero": false}, "axis": {"values": [0, 20, 40, 60, 80, 100, 120], "tickCount": 30, "format": "d", "tickSize": 4, "labelPadding": 1, "labelFontSize": 10.5, "titleFontSize": 12, "titlePadding": 2, "minExtent": 28, "maxExtent": 28}},
      "detail": [{"field": "Screen", "type": "quantitative"}, {"field": "Remission", "type": "quantitative"}]}},
    {"data": {"name": "p6"}, "transform": [{"fold": ["Screen", "Remission"], "as": ["t", "v"]}], "mark": {"type": "point", "filled": true, "size": 3, "color": "black", "opacity": 1},
     "encoding": {"x": {"field": "t", "type": "nominal"}, "y": {"field": "v", "type": "quantitative", "title": "mm/h"}}}
   ]}
 ]}
]
}
